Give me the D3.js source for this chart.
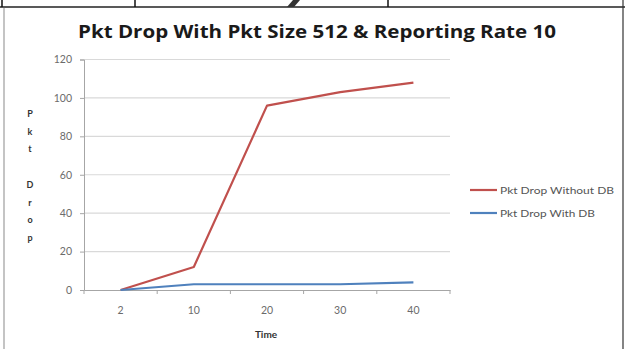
<!DOCTYPE html>
<html>
<head>
<meta charset="utf-8">
<script src="https://cdn.jsdelivr.net/npm/d3@7"></script>
<style>
  html, body { margin: 0; padding: 0; background: #fff; }
  svg { display: block; }
</style>
</head>
<body>
<svg id="chart" width="625" height="349"></svg>
<script>
// Chart data
const categories = ["2", "10", "20", "30", "40"];
const withoutDB = [0, 12, 96, 103, 108];
const withDB = [0, 3, 3, 3, 4];
const yTicks = [0, 20, 40, 60, 80, 100, 120];
const seriesNames = ["Pkt Drop Without DB", "Pkt Drop With DB"];
const seriesColors = ["#c0504d", "#4f81bd"];
const titleText = "Pkt Drop With Pkt Size 512 & Reporting Rate 10";
const yLabel = ["P", "k", "t", "", "D", "r", "o", "p"];
const xLabel = "Time";

const svg = d3.select("#chart");
const font = "Lato, 'Open Sans', sans-serif";

// Surrounding frame
const frame = svg.append("g");
frame.append("line").attr("x1", 0).attr("x2", 625).attr("y1", 7).attr("y2", 7)
  .attr("stroke", "#222").attr("stroke-width", 1.5);
[2, 135, 388].forEach(x => frame.append("line")
  .attr("x1", x).attr("x2", x).attr("y1", 0).attr("y2", 7)
  .attr("stroke", "#111").attr("stroke-width", 1.5));
frame.append("line").attr("x1", 623).attr("x2", 623).attr("y1", 0).attr("y2", 349)
  .attr("stroke", "#333").attr("stroke-width", 1.2);
frame.append("line").attr("x1", 4).attr("x2", 4).attr("y1", 8).attr("y2", 349)
  .attr("stroke", "#c4c4c4").attr("stroke-width", 2);
frame.append("path").attr("d", "M287,7 L293,0 L300,0 L294,7 Z").attr("fill", "#333");

// Scales
const x = d3.scaleBand().domain(categories).range([84, 450]).padding(0);
const y = d3.scaleLinear().domain([0, 120]).range([290, 59.5]);
const cx = d => x(d) + x.bandwidth() / 2;

// Gridlines
svg.append("g").selectAll("line").data(yTicks.filter(t => t > 0)).join("line")
  .attr("x1", 84).attr("x2", 450)
  .attr("y1", d => y(d)).attr("y2", d => y(d))
  .attr("stroke", "#d9d9d9").attr("stroke-width", 1.2);

// Y axis
const yAxis = svg.append("g").attr("transform", "translate(84,0)")
  .call(d3.axisLeft(y).tickValues(yTicks).tickSize(4).tickPadding(8));
yAxis.select(".domain").attr("stroke", "#a6a6a6");
yAxis.selectAll(".tick line").attr("stroke", "#a6a6a6");
yAxis.selectAll(".tick text").attr("fill", "#6b6b6b")
  .style("font-family", font).style("font-size", "10.5px");

// X axis with ticks at the category boundaries
const xAxis = svg.append("g").attr("transform", "translate(0,290)")
  .call(d3.axisBottom(x).tickSize(0).tickPadding(17));
xAxis.select(".domain").attr("stroke", "#a6a6a6");
xAxis.selectAll(".tick text").attr("fill", "#6b6b6b")
  .style("font-family", font).style("font-size", "10.5px");
const bounds = categories.map(c => x(c)).concat([x.range()[1]]);
xAxis.append("g").selectAll("line").data(bounds).join("line")
  .attr("x1", d => d).attr("x2", d => d).attr("y1", 0).attr("y2", 4)
  .attr("stroke", "#a6a6a6");

// Series lines
const line = d3.line().x((d, i) => cx(categories[i])).y(d => y(d));
[withoutDB, withDB].forEach((vals, i) => {
  svg.append("path").datum(vals)
    .attr("d", line)
    .attr("fill", "none")
    .attr("stroke", seriesColors[i])
    .attr("stroke-width", 2.2)
    .attr("stroke-linejoin", "round");
});

// Title
svg.append("text").attr("x", 78).attr("y", 38)
  .attr("textLength", 478).attr("lengthAdjust", "spacingAndGlyphs")
  .style("font-family", "'Open Sans', sans-serif").style("font-weight", "700")
  .style("font-size", "18px").attr("fill", "#1a1a1a")
  .text(titleText);

// Vertical stacked y label
svg.append("g").selectAll("text").data(yLabel).join("text")
  .attr("x", 30).attr("y", (d, i) => 117 + i * 17.7)
  .attr("text-anchor", "middle")
  .style("font-family", font).style("font-weight", "700").style("font-size", "9px")
  .attr("fill", "#333").text(d => d);

// X axis title
svg.append("text").attr("x", 266).attr("y", 338).attr("text-anchor", "middle")
  .style("font-family", font).style("font-weight", "700").style("font-size", "10px")
  .attr("fill", "#333").text(xLabel);

// Legend
const legend = svg.append("g");
seriesNames.forEach((name, i) => {
  const ly = 190 + i * 23;
  legend.append("line").attr("x1", 470).attr("x2", 497).attr("y1", ly).attr("y2", ly)
    .attr("stroke", seriesColors[i]).attr("stroke-width", 2.2);
  legend.append("text").attr("x", 500).attr("y", ly + 3.5)
    .attr("textLength", i === 0 ? 114 : 95).attr("lengthAdjust", "spacingAndGlyphs")
    .style("font-family", font).style("font-size", "9.5px")
    .attr("fill", "#555").text(name);
});
</script>
</body>
</html>
